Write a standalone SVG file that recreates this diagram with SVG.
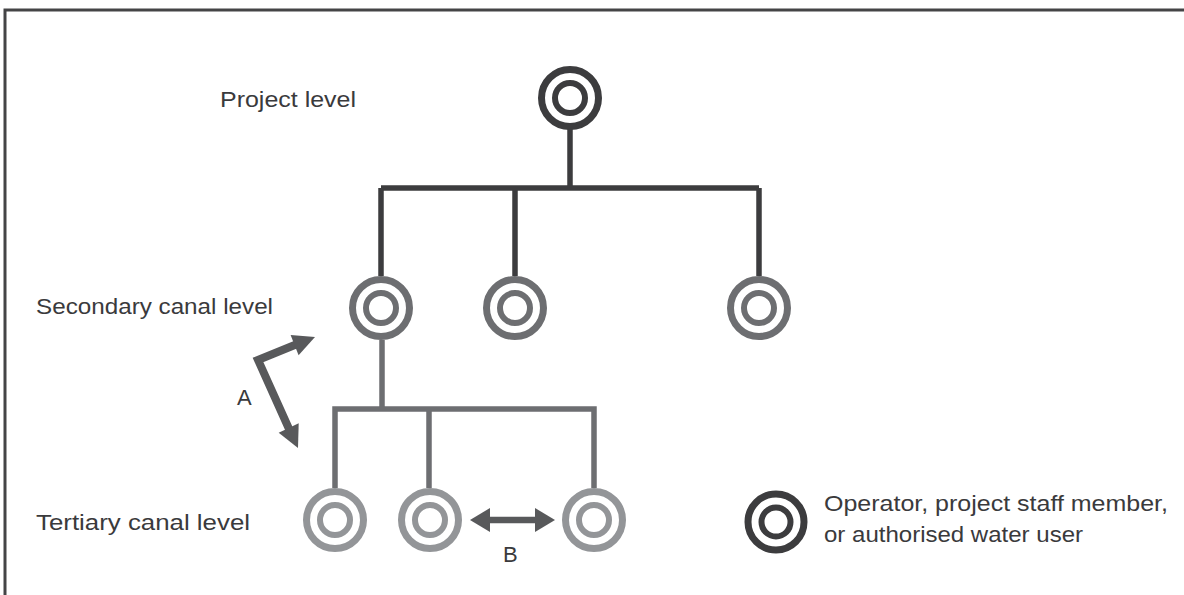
<svg xmlns="http://www.w3.org/2000/svg" width="1184" height="595" viewBox="0 0 1184 595">
<defs>
<style>
.lbl{font-family:"Liberation Sans","Open Sans",sans-serif;font-size:22px;fill:#3a3a3c}
.ring{fill:none}
.d{stroke:#3c3c3e}
.m{stroke:#6d6e71}
.l{stroke:#939598}
.o{stroke-width:7}
.i{stroke-width:6}
.ln{fill:none;stroke-width:5.5}
.ar{fill:#58595b}
.as{fill:none;stroke:#58595b}
</style>
</defs>
<rect width="1184" height="595" fill="#ffffff"/>
<path d="M5,595 V10 H1184" fill="none" stroke="#444446" stroke-width="3"/>

<g id="connectors">
<path class="ln d" d="M570,128 V188 M381,188 H759 M381,276 V188 M515,276 V188 M759,276 V188"/>
<path class="ln m" d="M382,340 V409 M335,488 V409 H594 V488 M429,488 V409"/>
<path class="as" stroke-width="8" stroke-linejoin="miter" d="M296,344.5 L258,360 L289.5,430"/>
<polygon class="ar" points="315,337 298.6,355.3 290.6,334.9"/>
<polygon class="ar" points="298,448 298.7,423.3 278.7,432.7"/>
<path class="as" stroke-width="6.5" d="M488,520 H537"/>
<polygon class="ar" points="470,520 490,508 490,532"/>
<polygon class="ar" points="555,520 535,508 535,532"/>
</g>

<g id="project">
<circle class="ring d o" cx="570" cy="98" r="28.5"/>
<circle class="ring d i" cx="570" cy="98" r="15"/>
</g>
<g id="sec1">
<circle class="ring m o" cx="381" cy="308" r="28.5"/>
<circle class="ring m i" cx="381" cy="308" r="15"/>
</g>
<g id="sec2">
<circle class="ring m o" cx="515" cy="308" r="28.5"/>
<circle class="ring m i" cx="515" cy="308" r="15"/>
</g>
<g id="sec3">
<circle class="ring m o" cx="759" cy="308" r="28.5"/>
<circle class="ring m i" cx="759" cy="308" r="15"/>
</g>
<g id="ter1">
<circle class="ring l o" cx="335" cy="520" r="28.5"/>
<circle class="ring l i" cx="335" cy="520" r="15"/>
</g>
<g id="ter2">
<circle class="ring l o" cx="430" cy="520" r="28.5"/>
<circle class="ring l i" cx="430" cy="520" r="15"/>
</g>
<g id="ter3">
<circle class="ring l o" cx="594" cy="520" r="28.5"/>
<circle class="ring l i" cx="594" cy="520" r="15"/>
</g>
<g id="legend">
<circle class="ring d o" cx="776" cy="522" r="28"/>
<circle class="ring d i" cx="776" cy="522" r="14.5"/>
<text class="lbl" x="824" y="511" textLength="344" lengthAdjust="spacingAndGlyphs">Operator, project staff member,</text>
<text class="lbl" x="824" y="542" textLength="259" lengthAdjust="spacingAndGlyphs">or authorised water user</text>
</g>

<g id="labels">
<text class="lbl" x="220" y="107" textLength="136" lengthAdjust="spacingAndGlyphs">Project level</text>
<text class="lbl" x="36" y="314" textLength="237" lengthAdjust="spacingAndGlyphs">Secondary canal level</text>
<text class="lbl" x="36" y="530" textLength="214" lengthAdjust="spacingAndGlyphs">Tertiary canal level</text>
<text class="lbl" x="237" y="405">A</text>
<text class="lbl" x="503" y="562">B</text>
</g>
</svg>
